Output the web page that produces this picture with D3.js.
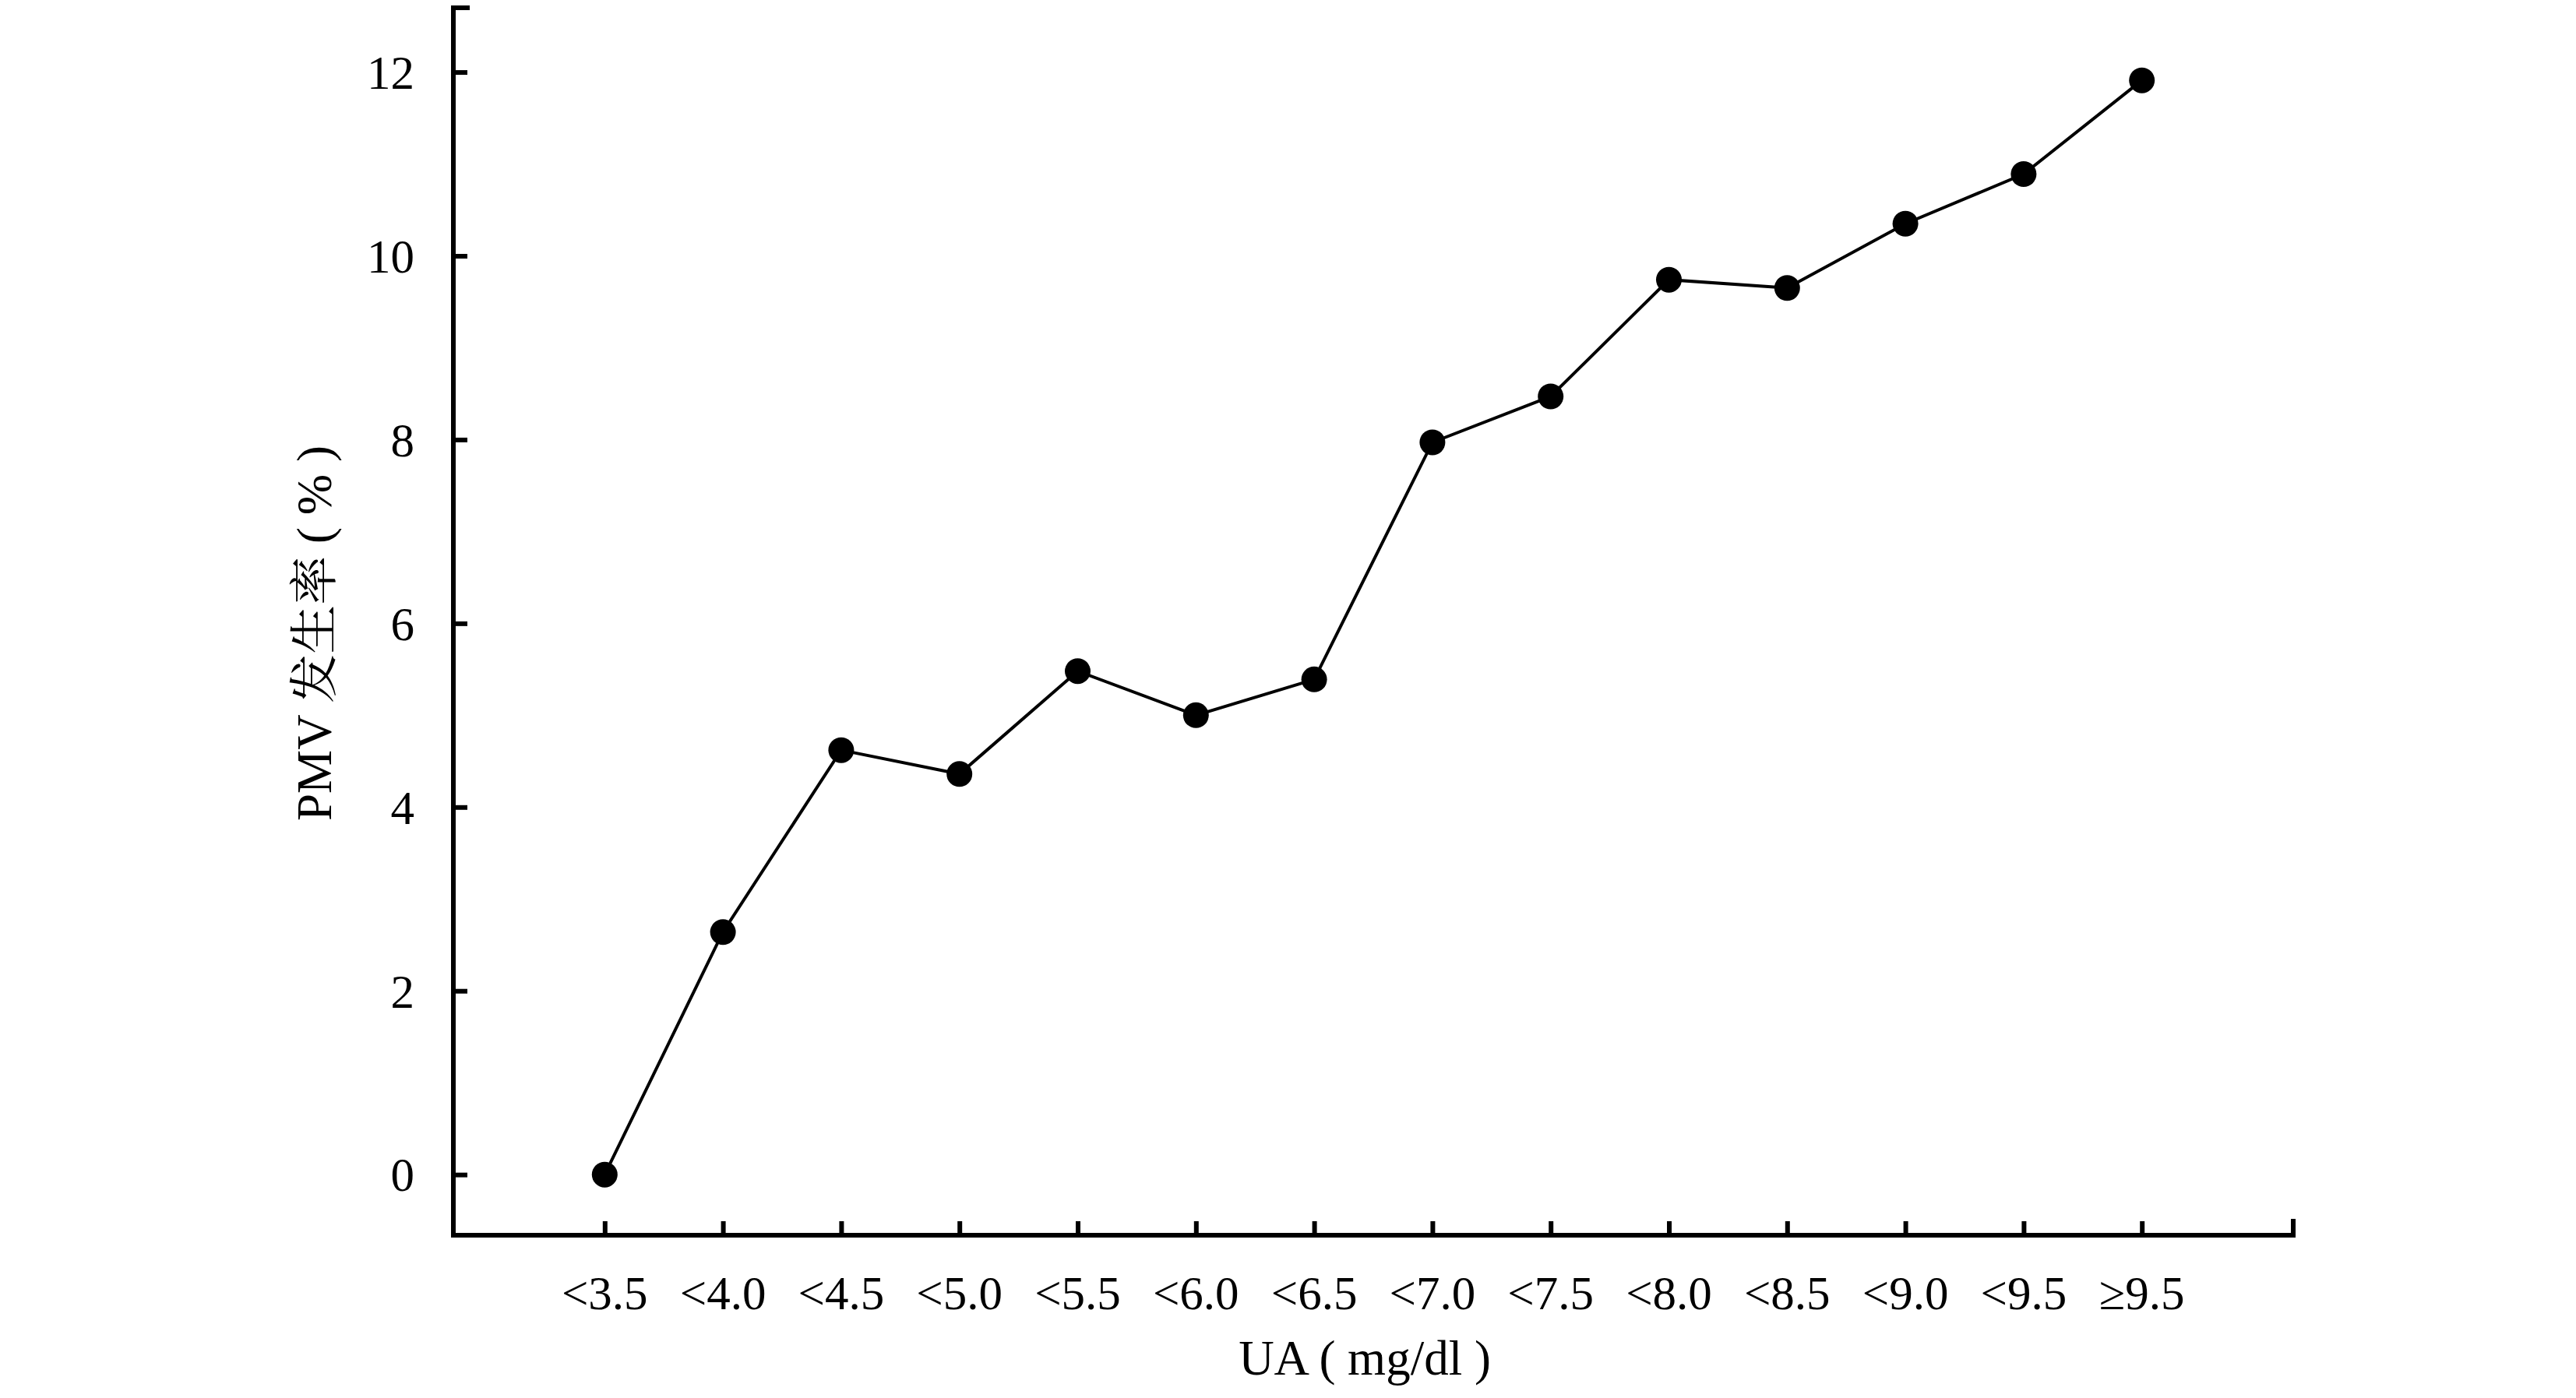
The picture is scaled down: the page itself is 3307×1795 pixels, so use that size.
<!DOCTYPE html>
<html><head><meta charset="utf-8">
<script src="https://cdn.jsdelivr.net/npm/d3@7"></script>
<style>html,body{margin:0;padding:0;background:#fff;}</style>
</head><body>
<svg id="chart" width="3307" height="1795"></svg>
<script>
const categories = ["<3.5","<4.0","<4.5","<5.0","<5.5","<6.0","<6.5","<7.0","<7.5","<8.0","<8.5","<9.0","<9.5","\u22659.5"];
const values = [0, 2.64, 4.62, 4.36, 5.48, 5.00, 5.39, 7.97, 8.47, 9.74, 9.65, 10.35, 10.89, 11.91];
const yTicks = [0, 2, 4, 6, 8, 10, 12];
const xTitle = "UA ( mg/dl )";
const yTitle = "PMV 发生率 ( % )";

(function () {
const svg = d3.select("#chart");
const pL = 582, pR = 2944, pT = 10, pB = 1586;
const font = "'Liberation Serif','Times New Roman','Noto Serif CJK SC','Noto Sans CJK SC',serif";

const x = d3.scalePoint().domain(categories).range([pL, pR]).padding(1.28);
const y = d3.scaleLinear().domain([-0.66, 12.7]).range([pB, pT]);

const g = svg.append("g").attr("stroke", "#000").attr("stroke-width", 6).attr("fill", "none").attr("stroke-linecap", "square");
g.append("path").attr("d", `M${pL+18},${pT} H${pL} V${pB} H${pR} V${pB-18}`);

const yAxis = d3.axisRight(y).tickValues(yTicks).tickSize(18).tickFormat("");
svg.append("g").attr("transform", `translate(${pL},0)`).call(yAxis)
  .call(s => s.select(".domain").remove())
  .call(s => s.selectAll(".tick line").attr("stroke", "#000").attr("stroke-width", 6));
svg.append("g").selectAll("text").data(yTicks).join("text")
  .attr("x", pL - 50).attr("y", d => y(d)).attr("dy", "0.35em")
  .attr("text-anchor", "end").attr("font-family", font).attr("font-size", 61).text(d => d);

const xAxis = d3.axisTop(x).tickSize(18).tickFormat("");
svg.append("g").attr("transform", `translate(0,${pB})`).call(xAxis)
  .call(s => s.select(".domain").remove())
  .call(s => s.selectAll(".tick line").attr("stroke", "#000").attr("stroke-width", 6));
svg.append("g").selectAll("text").data(categories).join("text")
  .attr("x", d => x(d)).attr("y", 1681)
  .attr("text-anchor", "middle").attr("font-family", font).attr("font-size", 61).text(d => d);

const line = d3.line().x((d, i) => x(categories[i])).y(d => y(d));
svg.append("path").datum(values).attr("d", line).attr("fill", "none").attr("stroke", "#000").attr("stroke-width", 4);
svg.append("g").selectAll("circle").data(values).join("circle")
  .attr("cx", (d, i) => x(categories[i])).attr("cy", d => y(d)).attr("r", 16.5).attr("fill", "#000");

svg.append("text").attr("x", 1752).attr("y", 1765).attr("text-anchor", "middle")
  .attr("font-family", font).attr("font-size", 63).attr("xml:space", "preserve").text(xTitle);
svg.append("text").attr("transform", "translate(425,813) rotate(-90)").attr("text-anchor", "middle")
  .attr("font-family", font).attr("font-size", 63).attr("xml:space", "preserve").text(yTitle);
})();
</script>
</body></html>
